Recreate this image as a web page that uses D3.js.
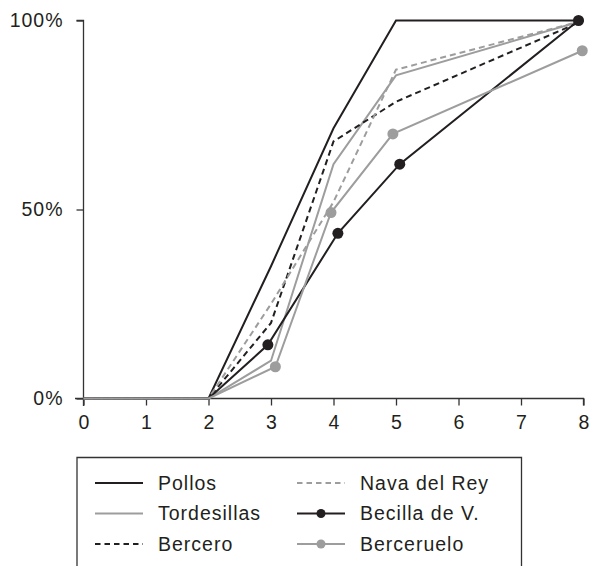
<!DOCTYPE html>
<html>
<head>
<meta charset="utf-8">
<script src="https://cdn.jsdelivr.net/npm/d3@7"></script>
<style>
  body { margin: 0; background: #fff; }
  text { font-family: "Liberation Sans", Arial, sans-serif; fill: #231f20; }
</style>
</head>
<body>
<script>
// values (x = class, y = cumulative %)
var names = ["Pollos", "Tordesillas", "Bercero", "Nava del Rey", "Becilla de V.", "Berceruelo"];
var pollosX = [0, 2, 3, 4, 5, 8];
var pollosY = [0, 0, 35, 71.5, 100, 100];
var tordesillasX = [0, 2, 3, 4, 5, 8];
var tordesillasY = [0, 0, 10, 62, 85.5, 100];
var berceroX = [0, 2, 3, 4, 5, 8];
var berceroY = [0, 0, 20, 68, 78.5, 100];
var navaX = [0, 2, 3, 4, 5, 8];
var navaY = [0, 0, 25, 52, 87, 100];
var becillaX = [0, 2, 2.95, 4.07, 5.06, 7.92];
var becillaY = [0, 0, 14.2, 43.7, 62, 100];
var berceX = [0, 2, 3.07, 3.96, 4.95, 7.98];
var berceY = [0, 0, 8.4, 49.2, 70, 92];
var xTicks = [0, 1, 2, 3, 4, 5, 6, 7, 8];
var yTicks = [0, 50, 100];

var black = "#231f20", grey = "#9d9d9d";
var styles = [
  {color: black, dash: null, dot: false},
  {color: grey, dash: null, dot: false},
  {color: black, dash: "6,4", dot: false},
  {color: grey, dash: "6,4", dot: false},
  {color: black, dash: null, dot: true},
  {color: grey, dash: null, dot: true}
];
var xs = [pollosX, tordesillasX, berceroX, navaX, becillaX, berceX];
var ys = [pollosY, tordesillasY, berceroY, navaY, becillaY, berceY];

var series = names.map(function(n, i) {
  return {name: n, style: styles[i], values: xs[i].map(function(x, j) { return {x: x, y: ys[i][j]}; })};
});

var width = 589, height = 566;
var svg = d3.select("body").append("svg").attr("width", width).attr("height", height);

var x = d3.scaleLinear().domain([0, 8]).range([83.5, 583.5]);
var y = d3.scaleLinear().domain([0, 100]).range([398.5, 20.5]);

// axes
var xAxis = svg.append("g").attr("transform", "translate(0,398.5)")
  .call(d3.axisBottom(x).tickValues(xTicks).tickSize(7).tickPadding(10).tickFormat(d3.format("d")));
xAxis.select(".domain").attr("d", "M75,0H583.5V7");
var yAxis = svg.append("g").attr("transform", "translate(83.5,0)")
  .call(d3.axisLeft(y).tickValues(yTicks).tickSize(7).tickPadding(13).tickFormat(function(d) { return d + "%"; }));
yAxis.select(".domain").attr("d", "M-7,20.5H0V406");
svg.selectAll(".tick line, .domain").attr("stroke", "#333").attr("stroke-width", 1.3);
svg.selectAll(".tick text").style("font-size", "19.5px").attr("fill", black);
yAxis.selectAll(".tick text").style("letter-spacing", "1px");

var line = d3.line().x(function(d) { return x(d.x); }).y(function(d) { return y(d.y); });

series.forEach(function(s) {
  svg.append("path")
    .datum(s.values)
    .attr("d", line)
    .attr("fill", "none")
    .attr("stroke", s.style.color)
    .attr("stroke-width", 2)
    .attr("stroke-dasharray", s.style.dash)
    .attr("stroke-linejoin", "miter");
  if (s.style.dot) {
    svg.selectAll(null)
      .data(s.values.filter(function(d) { return d.y > 0; }))
      .enter().append("circle")
      .attr("cx", function(d) { return x(d.x); })
      .attr("cy", function(d) { return y(d.y); })
      .attr("r", 5.5)
      .attr("fill", s.style.color);
  }
});

// legend
var lg = svg.append("g");
lg.append("path").attr("d", "M77,567V457.5H521.5V567").attr("fill", "none").attr("stroke", "#333").attr("stroke-width", 1.3);
series.forEach(function(s, i) {
  var col = Math.floor(i / 3), row = i % 3;
  var x0 = col ? 297 : 95, cy = 483 + row * 30.5;
  var item = lg.append("g");
  item.append("line").attr("x1", x0).attr("x2", x0 + 48).attr("y1", cy).attr("y2", cy)
    .attr("stroke", s.style.color).attr("stroke-width", 2).attr("stroke-dasharray", s.style.dash ? "5.5,4" : null);
  if (s.style.dot) item.append("circle").attr("cx", x0 + 24).attr("cy", cy).attr("r", 4.5).attr("fill", s.style.color);
  item.append("text").attr("x", x0 + 63).attr("y", cy).attr("dy", "0.35em")
    .style("font-size", "19.5px").style("letter-spacing", "1px").text(s.name);
});
</script>
</body>
</html>
